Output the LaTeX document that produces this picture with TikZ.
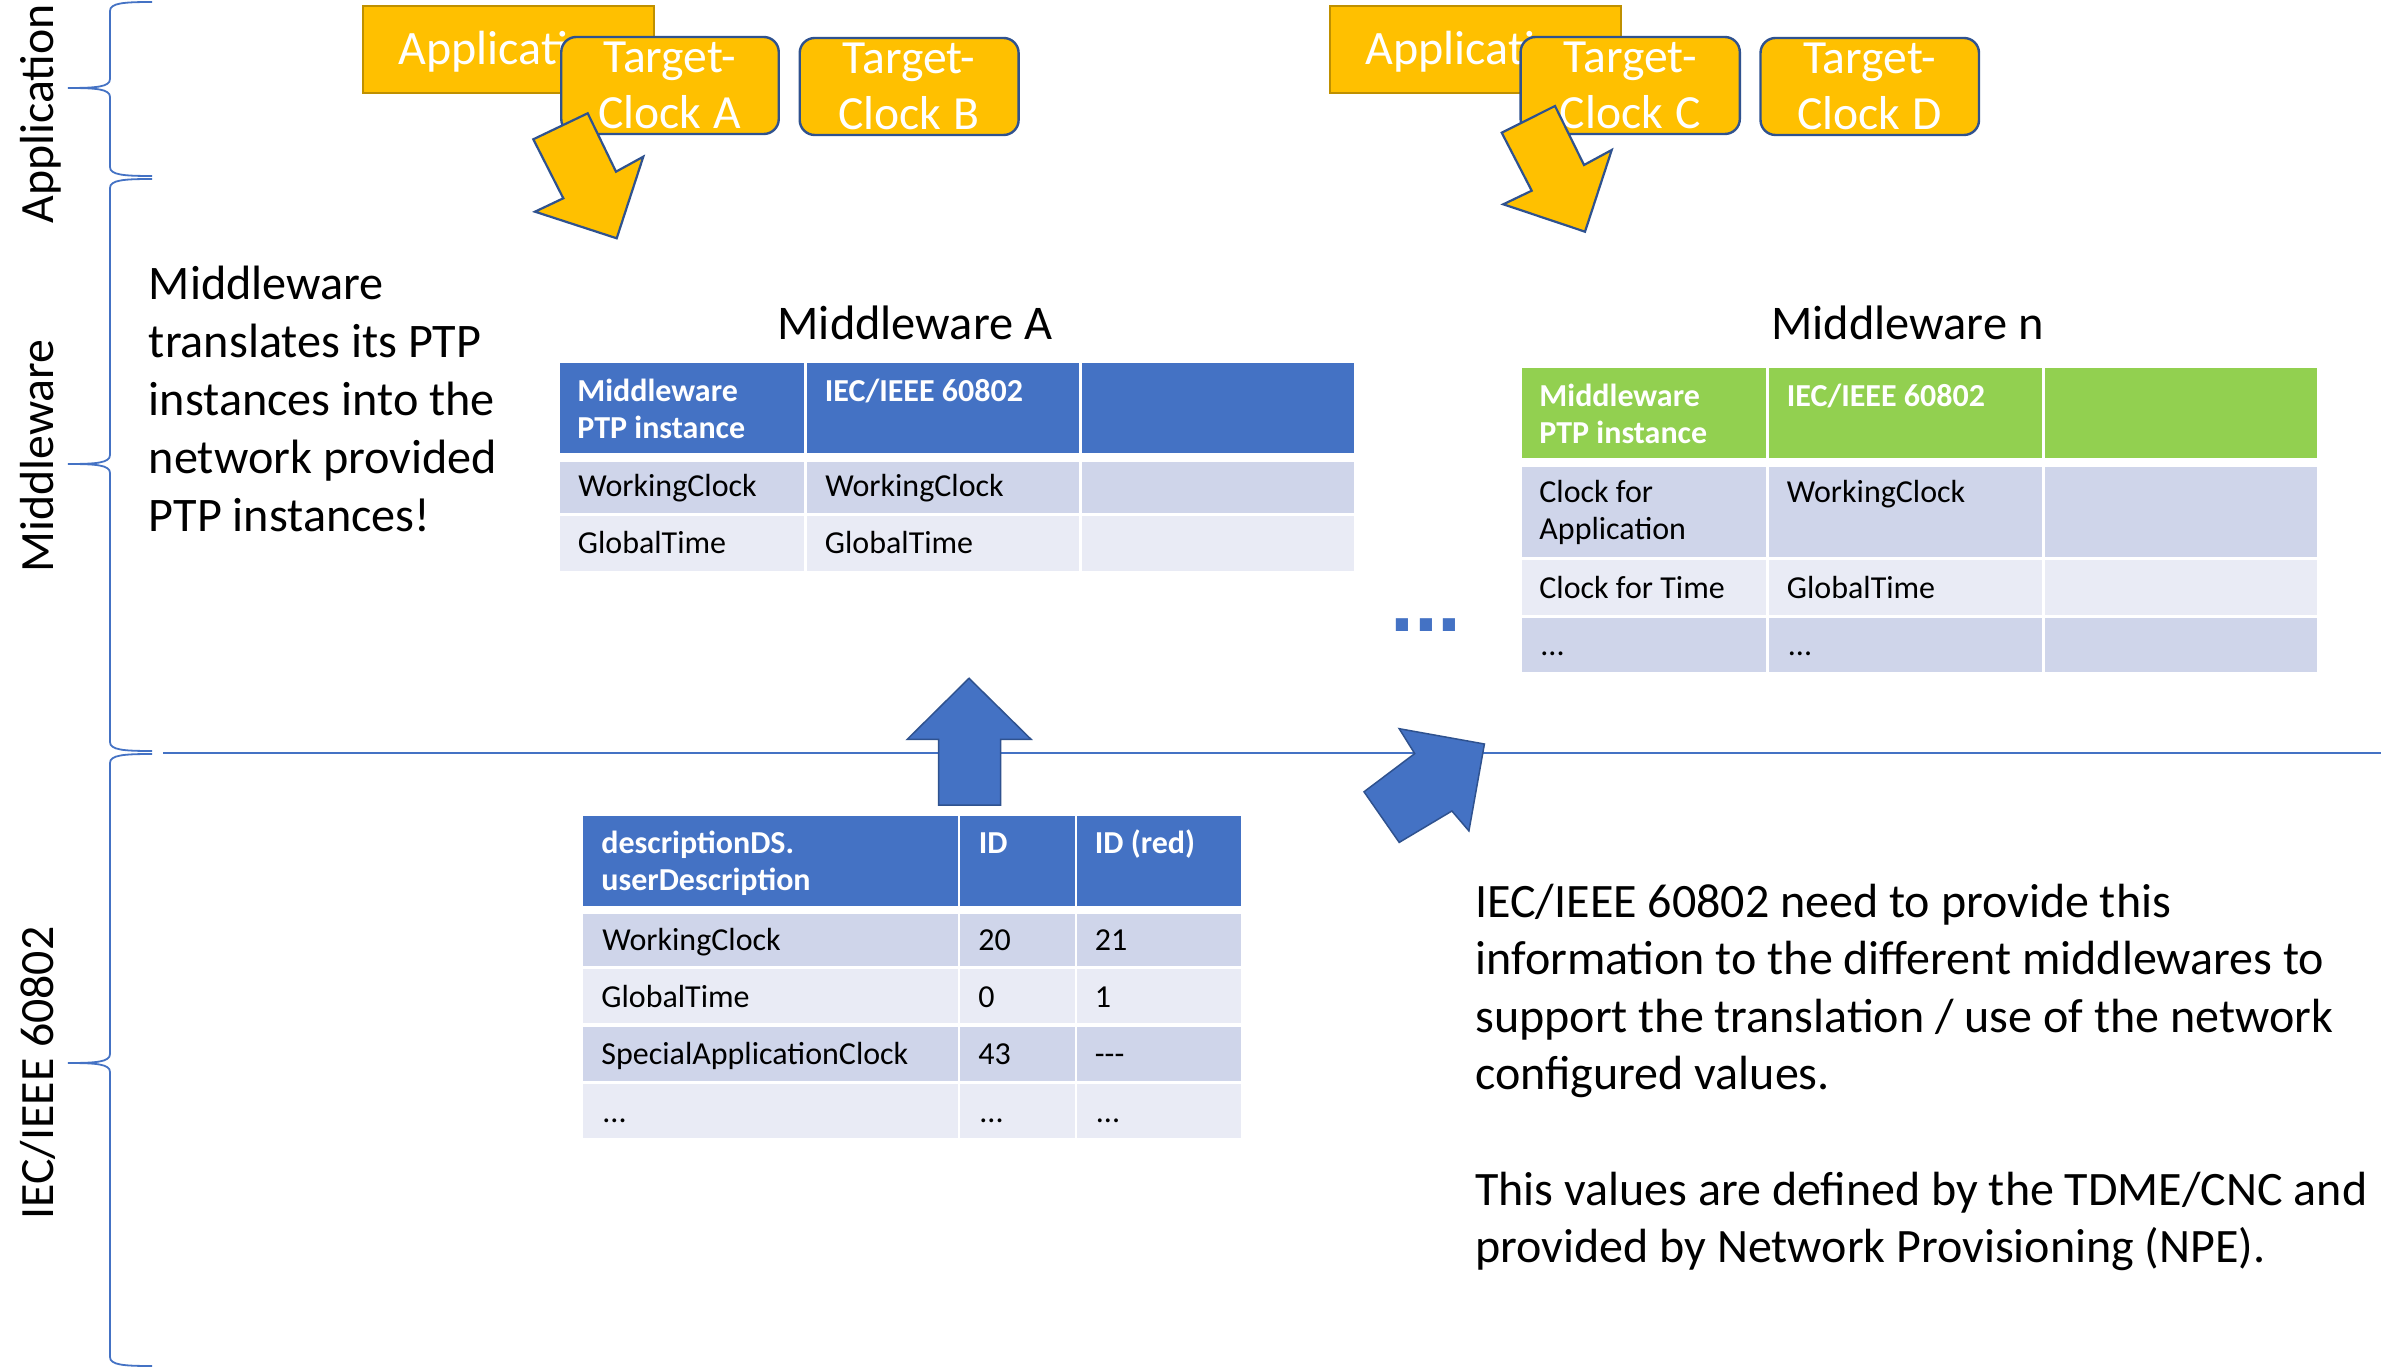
\documentclass[tikz,border=0pt]{standalone}
\usepackage{fontspec}
\setmainfont{Carlito}
\newfontfamily\dotsfont{Liberation Sans}
\newcommand\resetsp{\spaceskip=0pt\relax\xspaceskip=0pt\relax}
\definecolor{gold}{HTML}{FFC000}
\definecolor{goldline}{HTML}{BF9000}
\definecolor{navy}{HTML}{2F528F}
\definecolor{accent}{HTML}{4472C4}
\definecolor{lgreen}{HTML}{92D050}
\definecolor{rowA}{HTML}{CFD5EA}
\definecolor{rowB}{HTML}{E9EBF5}
\tikzset{
  txt/.style={inner sep=0pt, anchor=base west},
  tbl/.style={font=\fontsize{16}{18.5}\selectfont},
  tblh/.style={font=\fontsize{16}{18.5}\selectfont\bfseries, text=white},
  sidelabel/.style={inner sep=0pt, rotate=90, anchor=base, font=\fontsize{23.9}{28}\selectfont},
  title/.style={inner sep=0pt, anchor=base, font=\fontsize{24.2}{28}\selectfont},
  appbox/.style={fill=gold, draw=goldline, line width=1pt, minimum width=145.2pt, minimum height=43.5pt, inner sep=0pt},
  apptext/.style={inner sep=0pt, anchor=base, text=white, font=\fontsize{24}{28}\selectfont},
  tclock/.style={fill=gold, draw=navy, line width=1.2pt, rounded corners=7.5pt, minimum height=48.5pt, inner sep=0pt},
  clocktext/.style={inner sep=0pt, anchor=base, text=white, text width=100pt, align=center, font=\fontsize{23.8}{28.25}\selectfont},
  yarrow/.style={fill=gold, draw=navy, line width=1.1pt, line join=miter},
  barrow/.style={fill=accent, draw=navy, line width=0.75pt, line join=miter},
  bracepath/.style={draw=accent, line width=0.9pt},
}
\begin{document}
\begin{tikzpicture}[x=0.5pt,y=-0.5pt]
\useasboundingbox (0,0) rectangle (2381,1368);
\fill[white] (0,0) rectangle (2381,1368);

% ---------- braces ----------
\draw[bracepath] (152,2) .. controls (124,2) and (110,3) .. (110,11) -- (110,79)
  .. controls (110,87) and (96,88) .. (68,88) .. controls (96,88) and (110,89) .. (110,97)
  -- (110,167) .. controls (110,175) and (124,176) .. (152,176);
\draw[bracepath] (152,179) .. controls (124,179) and (110,180) .. (110,188) -- (110,455)
  .. controls (110,463) and (96,464) .. (68,464) .. controls (96,464) and (110,465) .. (110,473)
  -- (110,742) .. controls (110,750) and (124,751) .. (152,751);
\draw[bracepath] (152,754) .. controls (124,754) and (110,755) .. (110,763) -- (110,1054)
  .. controls (110,1062) and (96,1063) .. (68,1063) .. controls (96,1063) and (110,1064) .. (110,1072)
  -- (110,1357) .. controls (110,1365) and (124,1366) .. (152,1366);

\node[sidelabel] (lblapp) at (53.5,114) {Application};
\node[sidelabel] (lblmw) at (54,456) {Middleware};
\node[sidelabel] (lbliec) at (53.5,1073) {IEC/IEEE 60802};

% ---------- separator line ----------
\coordinate (sepL) at (163,753);
\coordinate (sepR) at (2381,753);
\draw[accent, line width=0.9pt] (sepL) -- (sepR);

% ---------- table Middleware A ----------
\foreach \xa/\xb in {560/804, 807/1079, 1082/1354}{
  \fill[accent] (\xa,363) rectangle (\xb,453);
  \fill[rowA] (\xa,462) rectangle (\xb,513);
  \fill[rowB] (\xa,516) rectangle (\xb,571);
}
\node[txt, tblh, text width=115pt, align=left] (ah1) at (577,402) {\resetsp Middleware\\PTP instance};
\node[txt, tblh] (ah2) at (824.5,402) {IEC/IEEE 60802};
\node[txt, tbl] (a11) at (578,496.7) {WorkingClock};
\node[txt, tbl] (a12) at (825,496.7) {WorkingClock};
\node[txt, tbl] (a21) at (577.5,553.3) {GlobalTime};
\node[txt, tbl] (a22) at (824.5,553.3) {GlobalTime};

% ---------- table Middleware n ----------
\foreach \xa/\xb in {1522/1766, 1769/2042, 2045/2317}{
  \fill[lgreen] (\xa,368) rectangle (\xb,458);
  \fill[rowA] (\xa,467) rectangle (\xb,557);
  \fill[rowB] (\xa,560) rectangle (\xb,615);
  \fill[rowA] (\xa,618) rectangle (\xb,672);
}
\node[txt, tblh, text width=115pt, align=left] (nh1) at (1539,406.7) {\resetsp Middleware\\PTP instance};
\node[txt, tblh] (nh2) at (1786.5,406.7) {IEC/IEEE 60802};
\node[txt, tbl, text width=115pt, align=left] (n11) at (1539,502.3) {\resetsp Clock for\\Application};
\node[txt, tbl] (n12) at (1786.5,502.3) {WorkingClock};
\node[txt, tbl] (n21) at (1539,598.3) {Clock for Time};
\node[txt, tbl] (n22) at (1786.5,598.3) {GlobalTime};
\node[txt, tbl] (n31) at (1540,655) {...};
\node[txt, tbl] (n32) at (1787.5,655) {...};

% ---------- table IEC/IEEE 60802 ----------
\foreach \xa/\xb in {583/958, 960/1075, 1077/1241}{
  \fill[accent] (\xa,816) rectangle (\xb,906);
  \fill[rowA] (\xa,914) rectangle (\xb,966);
  \fill[rowB] (\xa,969) rectangle (\xb,1023);
  \fill[rowA] (\xa,1027) rectangle (\xb,1081);
  \fill[rowB] (\xa,1084) rectangle (\xb,1138);
}
\node[txt, tblh, text width=150pt, align=left] (ih1) at (601,853.3) {\resetsp descriptionDS.\\userDescription};
\node[txt, tblh] (ih2) at (978.5,853.3) {ID};
\node[txt, tblh] (ih3) at (1094.5,853.3) {ID (red)};
\node[txt, tbl] (i11) at (602,950) {WorkingClock};
\node[txt, tbl] (i12) at (978,950) {20};
\node[txt, tbl] (i13) at (1094.5,950) {21};
\node[txt, tbl] (i21) at (601,1007.7) {GlobalTime};
\node[txt, tbl] (i22) at (978,1007.7) {0};
\node[txt, tbl] (i23) at (1094.5,1007.7) {1};
\node[txt, tbl] (i31) at (601,1064.3) {SpecialApplicationClock};
\node[txt, tbl] (i32) at (978,1064.3) {43};
\node[txt, tbl] (i33) at (1094.5,1064.3) {-{}-{}-};
\node[txt, tbl] (i41) at (602,1122.7) {...};
\node[txt, tbl] (i42) at (979,1122.7) {...};
\node[txt, tbl] (i43) at (1095.5,1122.7) {...};

% ---------- titles ----------
\node[title] (mwA) at (915,340) {Middleware A};
\node[title] (mwN) at (1907.5,340) {Middleware n};

% ---------- top boxes, left ----------
\node[appbox] (appA) at (508.6,49.5) {};
\node[apptext] (appAt) at (508.6,65) {Application};
\node[tclock, minimum width=108.75pt] (tcA) at (670,85.5) {};
\node[clocktext] (tcAt) at (670,72.5) {\resetsp Target-\\Clock A};
\node[tclock, minimum width=109.45pt] (tcB) at (909.15,86.5) {};
\node[clocktext] (tcBt) at (909.15,73.5) {\resetsp Target-\\Clock B};

% ---------- top boxes, right ----------
\node[appbox] (appC) at (1475.45,49.5) {};
\node[apptext] (appCt) at (1475.45,65) {Application};
\node[tclock, minimum width=109.6pt] (tcC) at (1630.2,85.5) {};
\node[clocktext] (tcCt) at (1630.2,72.5) {\resetsp Target-\\Clock C};
\node[tclock, minimum width=109.25pt] (tcD) at (1869.75,86.5) {};
\node[clocktext] (tcDt) at (1869.75,73.5) {\resetsp Target-\\Clock D};

% ---------- yellow arrows ----------
\draw[yarrow] (587.7,113.3) -- (533.3,139.3) -- (563.3,198.3) -- (535,211.7) -- (616.7,238.3) -- (643.3,156.7) -- (616,171.7) -- cycle;
\draw[yarrow] (1555,106) -- (1501.7,132.7) -- (1531.7,190.7) -- (1503.3,204.3) -- (1585,231.7) -- (1611.7,150) -- (1584,165) -- cycle;

% ---------- blue arrows ----------
\draw[barrow] (969,678.3) -- (1031,739.3) -- (1000.6,739.3) -- (1000.6,805) -- (938.6,805) -- (938.6,739.3) -- (907.3,739.3) -- cycle;
\draw[barrow] (1364,791.8) -- (1399.2,842.4) -- (1451.9,811) -- (1468.9,830.9) -- (1484.4,744) -- (1399.2,728.7) -- (1414.7,753.6) -- cycle;

% ---------- dots ----------
\node[txt, text=accent, font=\dotsfont\fontsize{43}{50}\selectfont\bfseries] (dots) at (1389.7,632) {...};

% ---------- explanatory texts ----------
\node[txt, text width=220pt, align=left, font=\fontsize{24.1}{28.95}\selectfont] (lefttext) at (148.5,300)
  {\resetsp Middleware\\translates its PTP\\instances into the\\network provided\\PTP instances!};
\node[txt, text width=470pt, align=left, font=\fontsize{24}{28.8}\selectfont] (righttext) at (1475,917)
  {\resetsp IEC/IEEE 60802 need to provide this\\information to the different middlewares to\\support the translation / use of the network\\configured values.\\[28.8pt]This values are defined by the TDME/CNC and\\provided by Network Provisioning (NPE).};
\end{tikzpicture}
\end{document}
